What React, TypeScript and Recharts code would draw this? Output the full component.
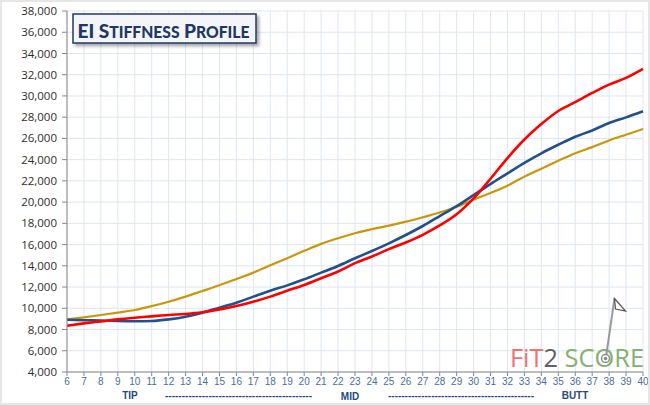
import { CartesianGrid, Line, LineChart, XAxis, YAxis } from 'recharts';

// shaft position (inches from tip) and EI readings for the three shafts
const positions = [6, 7, 8, 9, 10, 11, 12, 13, 14, 15, 16, 17, 18, 19, 20, 21, 22, 23, 24, 25, 26, 27, 28, 29, 30, 31, 32, 33, 34, 35, 36, 37, 38, 39, 40];
const goldShaft = [8950, 9150, 9370, 9600, 9840, 10200, 10620, 11100, 11630, 12170, 12760, 13360, 14050, 14720, 15410, 16070, 16600, 17070, 17450, 17780, 18160, 18580, 19020, 19560, 20230, 20860, 21550, 22400, 23150, 23890, 24610, 25180, 25810, 26350, 26880];
const blueShaft = [8920, 8880, 8850, 8800, 8780, 8810, 8960, 9210, 9590, 10060, 10530, 11100, 11660, 12160, 12730, 13360, 13990, 14710, 15400, 16120, 16900, 17750, 18680, 19620, 20660, 21700, 22700, 23700, 24600, 25400, 26150, 26750, 27450, 27980, 28550];
const redShaft = [8360, 8580, 8770, 8960, 9110, 9240, 9370, 9460, 9620, 9900, 10220, 10620, 11100, 11650, 12200, 12830, 13460, 14250, 14880, 15570, 16200, 16920, 17800, 18850, 20350, 22200, 24150, 25900, 27350, 28580, 29420, 30280, 31070, 31700, 32550];

const yTicks = [4000, 6000, 8000, 10000, 12000, 14000, 16000, 18000, 20000, 22000, 24000, 26000, 28000, 30000, 32000, 34000, 36000, 38000];
const minorTicks = Array.from({ length: 171 }, (_, i) => 4000 + i * 200);
const sectionLabels = ['TIP', 'MID', 'BUTT'];

const data = positions.map((pos, i) => ({ pos, gold: goldShaft[i], blue: blueShaft[i], red: redShaft[i] }));

const fmt = (v: number) => v.toLocaleString('en-US');

const navy = '#1F3864';
const labelBlue = '#244A80';

function Overlay() {
  const dash = '-'.repeat(44);
  return (
    <svg width={650} height={405} style={{ position: 'absolute', left: 0, top: 0, pointerEvents: 'none' }}>
      <defs>
        <filter id="titleShadow" x="-10%" y="-30%" width="130%" height="180%">
          <feDropShadow dx="2.5" dy="2.5" stdDeviation="1.5" floodColor="#000" floodOpacity="0.35" />
        </filter>
      </defs>
      <rect x={1} y={1} width={648} height={403} fill="none" stroke="#E6E6E6" strokeWidth={2} />

      {/* title box */}
      <rect x={73} y={14} width={183} height={29} fill="#F4F5F8" stroke={navy} strokeWidth={1.5} filter="url(#titleShadow)" />
      <text x={77.5} y={37.5} textLength={172} lengthAdjust="spacingAndGlyphs" fill={navy} fontFamily="Lato" fontWeight={900} fontSize={19.5}>
        EI S<tspan fontSize={16}>TIFFNESS</tspan> P<tspan fontSize={16}>ROFILE</tspan>
      </text>

      {/* section labels under the axis */}
      <g fill={labelBlue} fontFamily="Liberation Sans" fontWeight={700} fontSize={10}>
        <text x={130} y={399} textAnchor="middle">{sectionLabels[0]}</text>
        <text x={165} y={399} textLength={147} lengthAdjust="spacingAndGlyphs">{dash}</text>
        <text x={350} y={399.5} textAnchor="middle">{sectionLabels[1]}</text>
        <text x={388} y={399} textLength={146} lengthAdjust="spacingAndGlyphs">{dash}</text>
        <text x={575} y={399} textAnchor="middle">{sectionLabels[2]}</text>
      </g>

      {/* logo */}
      <text x={510} y={367} textLength={134} lengthAdjust="spacingAndGlyphs" fontFamily="Open Sans" fontSize={25}>
        <tspan fill="#F07272">FiT</tspan>
        <tspan fill="#606060">2</tspan>
        <tspan fill="#86B06E"> SCORE</tspan>
      </text>
      <line x1={606} y1={357} x2={614.5} y2={298.5} stroke="#9A9A9A" strokeWidth={2} />
      <circle cx={605.5} cy={358.5} r={4} fill="#fff" stroke="#8A8A8A" strokeWidth={1.5} />
      <circle cx={605.5} cy={358.5} r={1.8} fill="#8A8A8A" />
      <polygon points="614.5,298.5 625.5,311 615.5,309" fill="#fff" stroke="#555" strokeWidth={1.2} />
    </svg>
  );
}

export default function App() {
  return (
    <div style={{ position: 'absolute', left: 0, top: 0, width: 650, height: 405, background: '#fff' }}>
      <LineChart width={650} height={405} data={data} margin={{ top: 11, right: 7, left: 0, bottom: 13 }}>
        <CartesianGrid stroke="#DDE6F3" yAxisId="main" />
        <XAxis
          dataKey="pos"
          type="number"
          domain={[6, 40]}
          ticks={positions}
          interval={0}
          height={20}
          tickSize={4}
          tickMargin={2}
          stroke="#888"
          tick={{ fill: '#4A6DA0', fontSize: 10, fontFamily: 'Liberation Sans' }}
        />
        <YAxis
          yAxisId="main"
          domain={[4000, 38000]}
          ticks={yTicks}
          interval={0}
          width={67}
          tickSize={5}
          tickMargin={5}
          stroke="#888"
          tickFormatter={fmt}
          tick={{ fill: '#2E2E2E', fontSize: 11.5, fontFamily: 'Open Sans' }}
        />
        <YAxis
          yAxisId="minor"
          domain={[4000, 38000]}
          ticks={minorTicks}
          interval={0}
          width={0}
          mirror
          axisLine={false}
          tickSize={3}
          tick={false}
          stroke="#999"
        />
        <Line yAxisId="main" type="monotone" dataKey="gold" stroke="#C9980A" strokeWidth={2.2} dot={false} isAnimationActive={false} />
        <Line yAxisId="main" type="monotone" dataKey="blue" stroke="#22508C" strokeWidth={2.6} dot={false} isAnimationActive={false} />
        <Line yAxisId="main" type="monotone" dataKey="red" stroke="#FF0000" strokeWidth={2.6} dot={false} isAnimationActive={false} />
      </LineChart>
      <Overlay />
    </div>
  );
}
